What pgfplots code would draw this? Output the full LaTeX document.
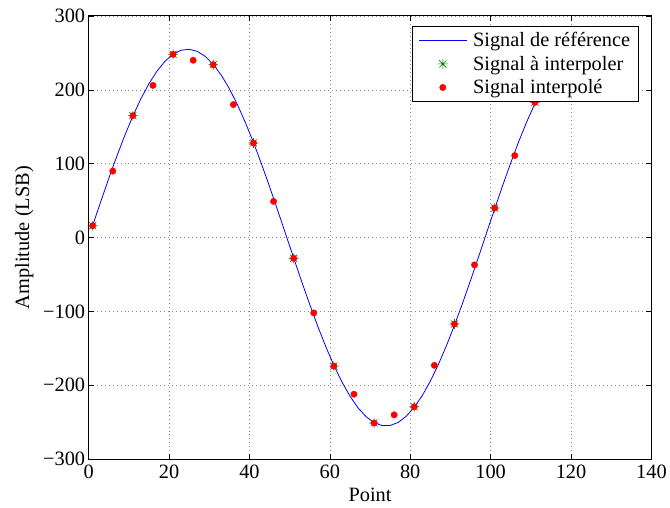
\documentclass[border=0pt]{standalone}
\usepackage{fontspec}
\setmainfont{Liberation Serif}
\usepackage{pgfplots}
\pgfplotsset{compat=1.18}
\definecolor{mgreen}{rgb}{0,0.5,0}
\pgfdeclareplotmark{mstar}{%
  \pgfpathmoveto{\pgfqpoint{-\pgfplotmarksize}{0pt}}\pgfpathlineto{\pgfqpoint{\pgfplotmarksize}{0pt}}%
  \pgfpathmoveto{\pgfqpoint{0pt}{-\pgfplotmarksize}}\pgfpathlineto{\pgfqpoint{0pt}{\pgfplotmarksize}}%
  \pgfpathmoveto{\pgfqpoint{-0.707\pgfplotmarksize}{-0.707\pgfplotmarksize}}\pgfpathlineto{\pgfqpoint{0.707\pgfplotmarksize}{0.707\pgfplotmarksize}}%
  \pgfpathmoveto{\pgfqpoint{-0.707\pgfplotmarksize}{0.707\pgfplotmarksize}}\pgfpathlineto{\pgfqpoint{0.707\pgfplotmarksize}{-0.707\pgfplotmarksize}}%
  \pgfusepathqstroke}
\newcommand{\fs}{\fontsize{20.5}{23}\selectfont}
\begin{document}
\begin{tikzpicture}
\begin{axis}[
  scale only axis, width=565bp, height=445bp,
  xmin=0, xmax=140, ymin=-300, ymax=300,
  xtick={0,20,...,140}, ytick={-300,-200,...,300},
  yticklabels={−300,−200,−100,0,100,200,300},
  /pgf/number format/assume math mode=true,
  xmajorgrids, ymajorgrids,
  grid style={black!45, line width=0.6bp, dash pattern=on 0.8bp off 3.2bp},
  tick align=inside, major tick length=5bp,
  axis line style={line width=0.9bp},
  tick style={black, line width=0.5bp},
  every tick label/.append style={font=\fs},
  xticklabel style={yshift=-2bp},
  label style={font=\fs},
  xlabel={Point}, ylabel={Amplitude (LSB)},
  xlabel style={yshift=-3bp},
  ylabel style={yshift=3bp},
  legend style={at={(0.977,0.9775)}, anchor=north east, font=\fs, line width=0.9bp, row sep=4bp, inner xsep=6bp, inner ysep=4bp,
    /tikz/every odd column/.append style={column sep=4bp}},
  legend cell align=left,
  legend image code/.code={\draw[mark repeat=2,mark phase=2,#1] plot coordinates {(0bp,0bp) (24bp,0bp) (48bp,0bp)};},
]
\addplot[color=blue, draw=blue, line width=0.8bp, mark=none] coordinates {
(1,16.2) (3,48.5) (5,79.9) (7,110.0) (9,138.4) (11,164.5) (13,187.9) (15,208.3) (17,225.3) (19,238.7)
(21,248.1) (23,253.6) (25,254.9) (27,252.1) (29,245.3) (31,234.4) (33,219.8) (35,201.6) (37,180.0) (39,155.6)
(41,128.7) (43,99.6) (45,69.0) (47,37.2) (49,4.9) (51,-27.6) (53,-59.6) (55,-90.6) (57,-120.2) (59,-147.8)
(61,-173.0) (63,-195.4) (65,-214.6) (67,-230.4) (69,-242.4) (71,-250.5) (73,-254.5) (75,-254.4) (77,-250.2) (79,-241.9)
(81,-229.7) (83,-213.8) (85,-194.4) (87,-171.8) (89,-146.4) (91,-118.7) (93,-89.1) (95,-58.0) (97,-26.0) (99,6.5)
(101,38.8) (103,70.6) (105,101.1) (107,130.1) (109,156.9) (111,181.2)
};
\addlegendentry{Signal de référence}
\addplot[only marks, color=mgreen, draw=mgreen, mark=mstar, mark size=5bp, line width=0.6bp] coordinates {
(1,16) (11,165) (21,248) (31,234) (41,128) (51,-28) (61,-174) (71,-251) (81,-229) (91,-117) (101,40) (111,183)
};
\addlegendentry{Signal à interpoler}
\addplot[only marks, color=red, draw=red, mark=*, mark size=3.2bp, line width=0.4bp, mark options={fill=red, draw=red}] coordinates {
(1,16) (6,90) (11,165) (16,206) (21,248) (26,240) (31,234) (36,180) (41,128) (46,49) (51,-28) (56,-102)
(61,-174) (66,-212) (71,-251) (76,-240) (81,-229) (86,-173) (91,-117) (96,-37) (101,40) (106,111) (111,183)
};
\addlegendentry{Signal interpolé}
\end{axis}
\path ([shift={(-89bp,-49bp)}]current axis.south west) ([shift={(16bp,16bp)}]current axis.north east);
\end{tikzpicture}
\end{document}
